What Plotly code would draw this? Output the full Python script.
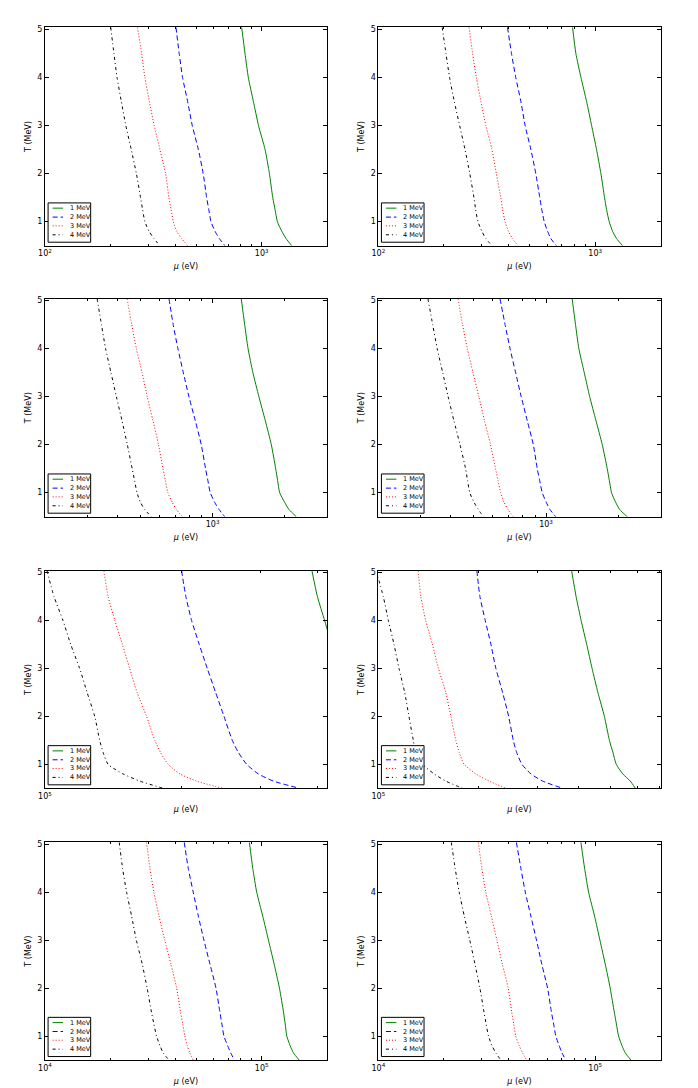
import math
import plotly.graph_objects as go

# Temperature grid (MeV), common to every curve
T_MEV = [5.04, 4.5, 4.0, 3.5, 3.0, 2.5, 2.0, 1.5, 1.25, 1.0, 0.8, 0.65, 0.5]
LABELS = ["1 MeV", "2 MeV", "3 MeV", "4 MeV"]

# Panel 1 (row 1, left) : mu (eV)
P1_1 = [808, 837, 867, 915, 966, 1036, 1085, 1124, 1152, 1181, 1237, 1294, 1376]
P1_2 = [402, 416, 431, 455, 478, 510, 537, 557, 570, 583, 609, 637, 677]
P1_3 = [267, 279, 289, 303, 319, 339, 360, 373, 382, 391, 405, 427, 455]
P1_4 = [201, 208, 215, 225, 236, 250, 264, 276, 282, 289, 302, 318, 339]
# Panel 2 (row 1, right)
P2_1 = [786, 814, 859, 912, 962, 1014, 1062, 1104, 1128, 1160, 1202, 1254, 1337]
P2_2 = [394, 411, 430, 454, 475, 505, 532, 555, 567, 582, 603, 624, 663]
P2_3 = [262, 272, 283, 297, 313, 334, 350, 367, 374, 384, 398, 415, 441]
P2_4 = [197, 205, 213, 224, 237, 251, 264, 276, 281, 288, 300, 313, 334]
# Panel 3 (row 2, left)
P3_1 = [1317, 1361, 1406, 1473, 1560, 1659, 1758, 1833, 1868, 1905, 1997, 2082, 2236]
P3_2 = [658, 685, 717, 755, 797, 847, 897, 935, 956, 978, 1020, 1064, 1123]
P3_3 = [440, 460, 481, 508, 534, 564, 595, 621, 636, 651, 679, 706, 748]
P3_4 = [330, 344, 358, 377, 397, 419, 441, 462, 473, 484, 500, 521, 555]
# Panel 4 (row 2, right)
P4_1 = [1285, 1327, 1370, 1443, 1520, 1615, 1715, 1799, 1836, 1875, 1950, 2026, 2179]
P4_2 = [643, 675, 708, 747, 788, 835, 885, 919, 941, 964, 1002, 1038, 1096]
P4_3 = [430, 449, 470, 496, 525, 554, 587, 616, 631, 647, 668, 694, 728]
P4_4 = [322, 337, 352, 371, 391, 413, 438, 462, 471, 481, 501, 522, 548]
# Panel 5 (row 3, left)
P5_1 = [3.89e5, 4.0e5, 4.15e5, 4.3e5, None, None, None, None, None, None, None, None, None]
P5_2 = [2.004e5, 2.048e5, 2.109e5, 2.193e5, 2.284e5, 2.383e5, 2.487e5, 2.594e5, 2.675e5, 2.791e5, 2.962e5, 3.198e5, 3.651e5]
P5_3 = [1.349e5, 1.379e5, 1.427e5, 1.483e5, 1.539e5, 1.598e5, 1.677e5, 1.749e5, 1.80e5, 1.872e5, 1.987e5, 2.163e5, 2.47e5]
P5_4 = [1.01e5, 1.047e5, 1.096e5, 1.140e5, 1.193e5, 1.239e5, 1.288e5, 1.321e5, 1.344e5, 1.379e5, 1.488e5, 1.621e5, 1.825e5]
# Panel 6 (row 3, right)
P6_1 = [3.81e5, 3.93e5, 4.07e5, 4.23e5, 4.39e5, 4.57e5, 4.78e5, 4.95e5, 5.07e5, 5.19e5, 5.43e5, 5.72e5, 5.92e5]
P6_2 = [1.978e5, 2.02e5, 2.096e5, 2.18e5, 2.256e5, 2.363e5, 2.464e5, 2.545e5, 2.604e5, 2.702e5, 2.876e5, 3.119e5, 3.583e5]
P6_3 = [1.317e5, 1.342e5, 1.388e5, 1.454e5, 1.516e5, 1.595e5, 1.652e5, 1.710e5, 1.750e5, 1.811e5, 1.965e5, 2.155e5, 2.418e5]
P6_4 = [0.985e5, 1.035e5, 1.072e5, 1.115e5, 1.154e5, 1.200e5, 1.236e5, 1.274e5, 1.295e5, 1.357e5, 1.472e5, 1.595e5, 1.791e5]
# Panel 7 (row 4, left)
P7_1 = [8.77e4, 9.09e4, 9.48e4, 1.011e5, 1.074e5, 1.141e5, 1.207e5, 1.260e5, 1.283e5, 1.305e5, 1.352e5, 1.400e5, 1.488e5]
P7_2 = [4.39e4, 4.58e4, 4.83e4, 5.10e4, 5.41e4, 5.77e4, 6.15e4, 6.41e4, 6.55e4, 6.69e4, 6.96e4, 7.19e4, 7.47e4]
P7_3 = [2.94e4, 3.05e4, 3.18e4, 3.36e4, 3.57e4, 3.81e4, 4.05e4, 4.22e4, 4.32e4, 4.42e4, 4.53e4, 4.66e4, 4.83e4]
P7_4 = [2.20e4, 2.28e4, 2.38e4, 2.51e4, 2.64e4, 2.81e4, 2.96e4, 3.10e4, 3.18e4, 3.27e4, 3.39e4, 3.51e4, 3.73e4]
# Panel 8 (row 4, right)
P8_1 = [8.59e4, 8.93e4, 9.32e4, 9.93e4, 1.051e5, 1.112e5, 1.172e5, 1.224e5, 1.252e5, 1.281e5, 1.328e5, 1.375e5, 1.461e5]
P8_2 = [4.33e4, 4.54e4, 4.76e4, 5.05e4, 5.36e4, 5.67e4, 6.03e4, 6.28e4, 6.43e4, 6.58e4, 6.82e4, 7.02e4, 7.32e4]
P8_3 = [2.89e4, 3.00e4, 3.13e4, 3.32e4, 3.52e4, 3.73e4, 3.97e4, 4.12e4, 4.21e4, 4.30e4, 4.46e4, 4.62e4, 4.82e4]
P8_4 = [2.17e4, 2.26e4, 2.36e4, 2.49e4, 2.64e4, 2.79e4, 2.94e4, 3.07e4, 3.14e4, 3.22e4, 3.34e4, 3.48e4, 3.67e4]

PANELS = [
    [P1_1, P1_2, P1_3, P1_4], [P2_1, P2_2, P2_3, P2_4],
    [P3_1, P3_2, P3_3, P3_4], [P4_1, P4_2, P4_3, P4_4],
    [P5_1, P5_2, P5_3, P5_4], [P6_1, P6_2, P6_3, P6_4],
    [P7_1, P7_2, P7_3, P7_4], [P8_1, P8_2, P8_3, P8_4],
]
X_RANGES = [(100, 2000), (100, 2000), (200, 3000), (200, 3000),
            (1e5, 4.2e5), (1e5, 7.05e5), (1e4, 2e5), (1e4, 2e5)]
Y_RANGE = (0.5, 5.04)

COLORS = ["#008000", "#0000ff", "#ff0000", "#000000"]
DASHES = ["solid", "5px,3px", "1px,2px", "3px,3px,1px,3px"]

# figure is placed at an 8px page offset, so it is 690x1080
W, H = 690, 1080
XDOM = [[0.0536, 0.4623], [0.5367, 0.9457]]
YDOM = [[0.7799, 0.9821], [0.5290, 0.7308], [0.2775, 0.4790], [0.0259, 0.2275]]

FONT = "DejaVu Sans"
fig = go.Figure()
shapes = []
annotations = []

for i in range(8):
    r, c = divmod(i, 2)
    sfx = "" if i == 0 else str(i + 1)
    xa, ya = "x" + sfx, "y" + sfx
    for k in range(4):
        fig.add_trace(go.Scatter(
            x=PANELS[i][k], y=T_MEV, mode="lines", name=LABELS[k],
            line=dict(color=COLORS[k], dash=DASHES[k], width=1,
                      shape="spline", smoothing=0.6),
            xaxis=xa, yaxis=ya, showlegend=False, hoverinfo="skip"))
    lo, hi = X_RANGES[i]
    e0, e1 = int(math.floor(math.log10(lo))), int(math.ceil(math.log10(hi)))
    major_vals = [10 ** e for e in range(e0, e1 + 1) if lo * 0.999 <= 10 ** e <= hi]
    major_text = ["10<sup>%d</sup>" % round(math.log10(v)) for v in major_vals]
    minor_vals = [m * 10 ** e for e in range(e0, e1 + 1) for m in range(2, 10)
                  if lo < m * 10 ** e < hi]
    fig.layout["xaxis" + sfx] = dict(
        domain=XDOM[c], anchor=ya, type="log", automargin=False,
        range=[math.log10(lo), math.log10(hi)],
        tickmode="array", tickvals=major_vals, ticktext=major_text,
        ticks="inside", ticklen=4, tickwidth=1, tickcolor="black",
        mirror="ticks", showline=True, linecolor="black", linewidth=1,
        showgrid=False, zeroline=False,
        tickfont=dict(family=FONT, size=8, color="black"),
        title=dict(text="<i>μ</i> (eV)", standoff=6,
                   font=dict(family=FONT, size=8, color="black")),
        minor=dict(tickmode="array", tickvals=minor_vals, ticks="inside",
                   ticklen=2, tickcolor="black", showgrid=False),
    )
    fig.layout["yaxis" + sfx] = dict(
        domain=YDOM[r], anchor=xa, range=list(Y_RANGE), automargin=False,
        tickmode="array", tickvals=[1, 2, 3, 4, 5],
        ticks="inside", ticklen=4, tickwidth=1, tickcolor="black",
        mirror="ticks", showline=True, linecolor="black", linewidth=1,
        showgrid=False, zeroline=False,
        tickfont=dict(family=FONT, size=8, color="black"),
        title=dict(text="T (MeV)", standoff=4,
                   font=dict(family=FONT, size=8, color="black")),
    )
    # legend box
    xr, yr = xa + " domain", ya + " domain"
    shapes.append(dict(type="rect", xref=xr, yref=yr, x0=0.011, x1=0.162,
                       y0=0.016, y1=0.196, fillcolor="white",
                       line=dict(color="black", width=1), layer="above"))
    rows = [0.172, 0.131, 0.091, 0.050]
    for k in range(4):
        shapes.append(dict(type="line", xref=xr, yref=yr, x0=0.027, x1=0.064,
                           y0=rows[k], y1=rows[k], layer="above",
                           line=dict(color=COLORS[k], dash=DASHES[k], width=1)))
        annotations.append(dict(xref=xr, yref=yr, x=0.082, y=rows[k],
                                text=LABELS[k], showarrow=False,
                                xanchor="left", yanchor="middle",
                                font=dict(family=FONT, size=6.5, color="black")))

fig.update_layout(
    width=W, height=H, margin=dict(l=0, r=0, t=0, b=0),
    paper_bgcolor="white", plot_bgcolor="white",
    shapes=shapes, annotations=annotations, showlegend=False,
)
fig.write_html("out.html")
